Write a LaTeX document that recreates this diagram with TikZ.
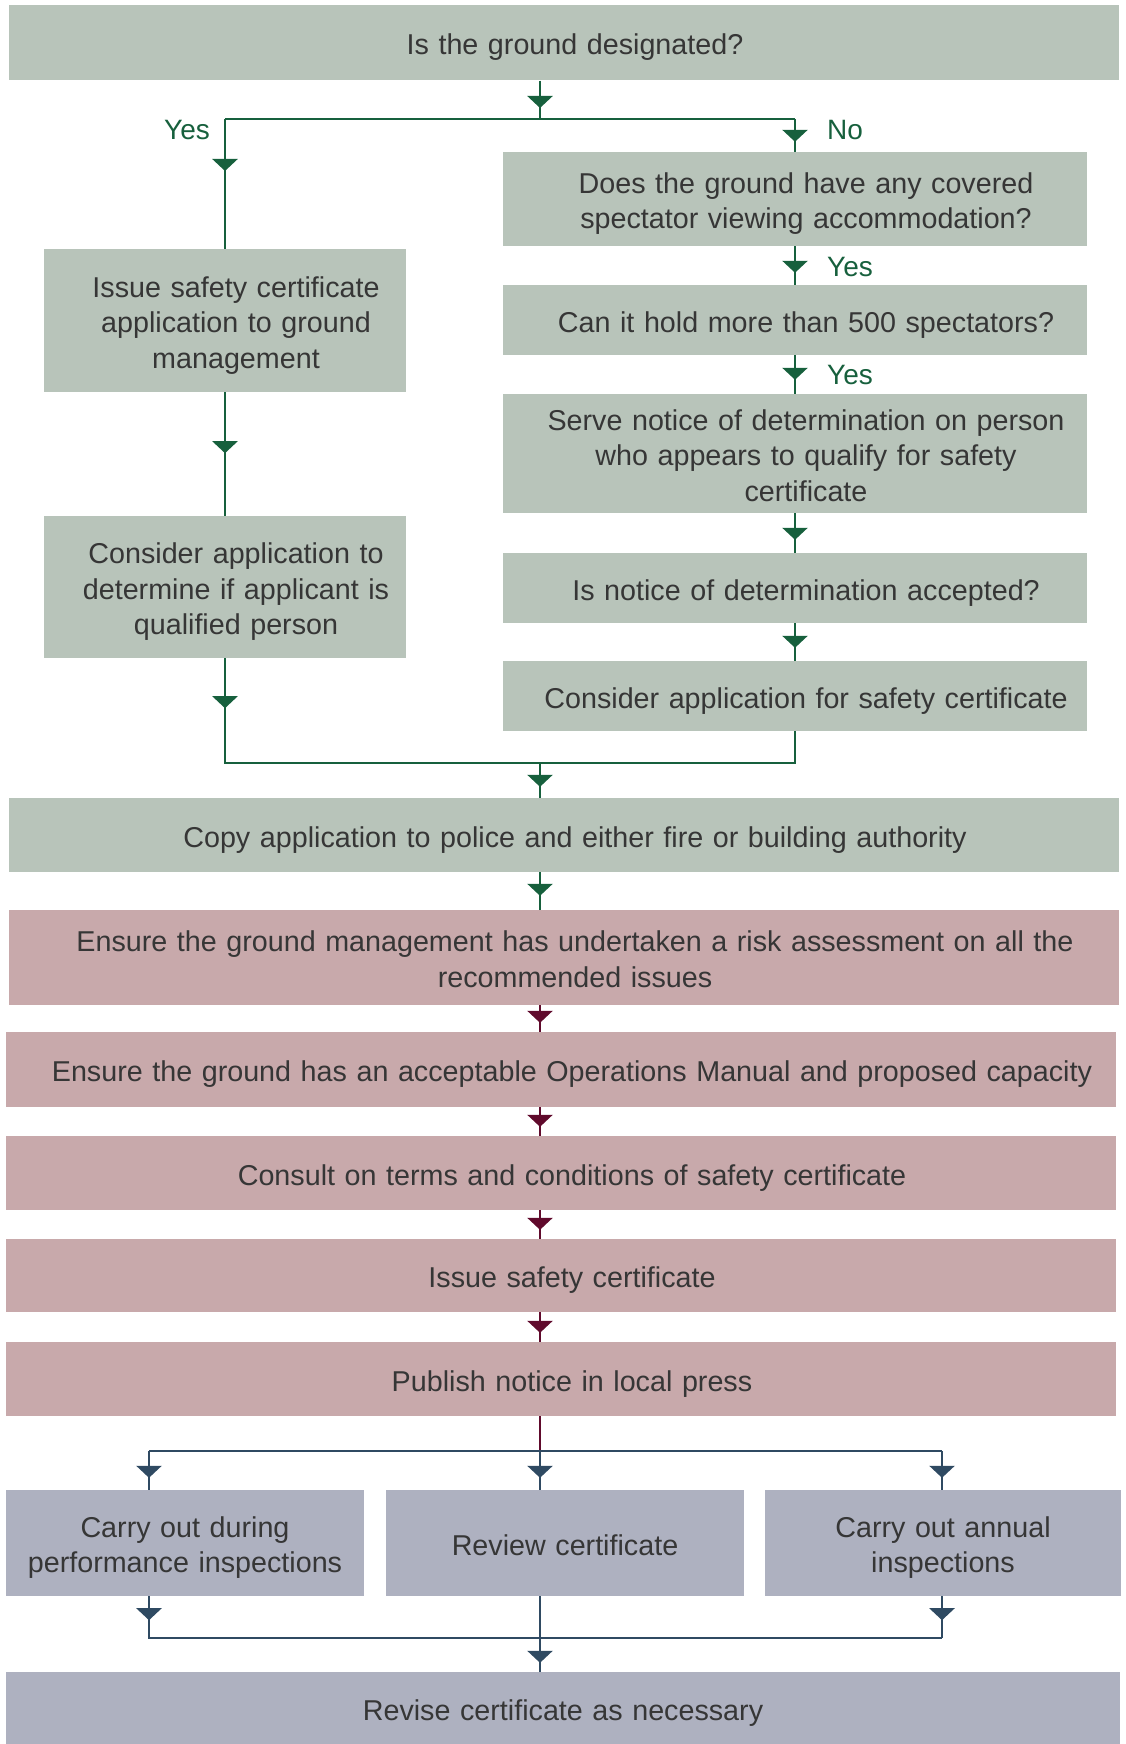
\documentclass[tikz,border=0pt]{standalone}
\usepackage{fontspec}
\setmainfont{Liberation Sans}
\usepackage{xcolor}
\usetikzlibrary{arrows.meta,decorations.markings}
\definecolor{boxsage}{HTML}{B8C4BA}
\definecolor{boxrose}{HTML}{C8A9AB}
\definecolor{boxslate}{HTML}{AEB1C0}
\definecolor{linesage}{HTML}{17603D}
\definecolor{linerose}{HTML}{600A2C}
\definecolor{lineslate}{HTML}{2F4A62}
\definecolor{boxtext}{HTML}{363636}
\newcommand\boxfont{\fontsize{28.7}{35.5}\selectfont}
\newcommand\textshift{22pt}

\begin{document}
\begin{tikzpicture}[x=1pt,y=-1pt,
  box/.style 2 args={inner sep=0pt,align=center,text=boxtext,font=\boxfont,text width=#1pt,minimum height=#2pt,
    execute at begin node={\advance\leftskip\textshift\rule{0pt}{32pt}},
    execute at end node={\rule[-8pt]{0pt}{8pt}}},
  centred/.code={\def\textshift{0pt}},
  answer/.style={inner sep=0pt,text=linesage,font=\fontsize{28}{34}\selectfont},
  sageline/.style={draw=linesage,line width=2.6pt},
  roseline/.style={draw=linerose,line width=2.6pt},
  slateline/.style={draw=lineslate,line width=2.6pt},
  tipat/.style={postaction={decorate,decoration={markings,mark=at position #1 with {\arrow{Triangle[width=25pt,length=12pt]}}}}}]
  \useasboundingbox (0,0) rectangle (1125,1744);
  \node[box={1110}{75},fill=boxsage] (designated) at (564,43) {Is the ground designated?};
  \coordinate (split) at (540,119);
  \coordinate (yesleft) at (225,119);
  \coordinate (noright) at (795,119);
  \node[answer] (yesa) at (187,130) {Yes};
  \node[answer,anchor=west] (noa) at (827,130) {No};
  \node[answer,anchor=west] (yesb) at (827,267) {Yes};
  \node[answer,anchor=west] (yesc) at (827,375) {Yes};
  \node[box={362}{143},fill=boxsage] (issueapp) at (225,320.5) {Issue safety certificate\\application to ground\\management};
  \node[box={362}{142},fill=boxsage] (considerapp) at (225,587) {Consider application to\\determine if applicant is\\qualified person};
  \node[box={584}{94},fill=boxsage] (covered) at (795,199) {Does the ground have any covered\\spectator viewing accommodation?};
  \node[box={584}{70},fill=boxsage] (hold) at (795,320) {Can it hold more than 500 spectators?};
  \node[box={584}{119},fill=boxsage] (serve) at (795,453.5) {Serve notice of determination on person\\who appears to qualify for safety\\certificate};
  \node[box={584}{70},fill=boxsage] (accepted) at (795,588) {Is notice of determination accepted?};
  \node[box={584}{70},fill=boxsage] (safetyapp) at (795,696) {Consider application for safety certificate};
  \coordinate (joinleft) at (225,763);
  \coordinate (joinright) at (795,763);
  \coordinate (join) at (540,763);
  \node[box={1110}{74},fill=boxsage] (copyapp) at (564,835) {Copy application to police and either fire or building authority};
  \node[box={1110}{95},fill=boxrose] (risk) at (564,957.5) {Ensure the ground management has undertaken a risk assessment on all the\\recommended issues};
  \node[box={1110}{75},fill=boxrose] (manual) at (561,1069.5) {Ensure the ground has an acceptable Operations Manual and proposed capacity};
  \node[box={1110}{74},fill=boxrose] (consult) at (561,1173) {Consult on terms and conditions of safety certificate};
  \node[box={1110}{73},fill=boxrose] (issuecert) at (561,1275.5) {Issue safety certificate};
  \node[box={1110}{74},fill=boxrose] (publish) at (561,1379) {Publish notice in local press};
  \coordinate (fork) at (540,1451);
  \coordinate (forkleft) at (149,1451);
  \coordinate (forkright) at (942,1451);
  \node[box={358}{106},centred,fill=boxslate] (during) at (185,1543) {Carry out during\\performance inspections};
  \node[box={358}{106},centred,fill=boxslate] (review) at (565,1543) {Review certificate};
  \node[box={356}{106},centred,fill=boxslate] (annual) at (943,1543) {Carry out annual\\inspections};
  \coordinate (mergeleft) at (149,1638);
  \coordinate (mergeright) at (942,1638);
  \node[box={1114}{72},centred,fill=boxslate] (revise) at (563,1708) {Revise certificate as necessary};
  \draw[sageline,tipat=-11pt] (designated.south -| split) -- (split);
  \draw[sageline] (yesleft) -- (noright);
  \draw[sageline,tipat=52pt] (yesleft) -- (issueapp.north);
  \draw[sageline,tipat=-10pt] (noright) -- (covered.north);
  \draw[sageline,tipat=-12pt] (covered) -- (hold);
  \draw[sageline,tipat=-14pt] (hold) -- (serve);
  \draw[sageline,tipat=-13pt] (serve) -- (accepted);
  \draw[sageline,tipat=-13pt] (accepted) -- (safetyapp);
  \draw[sageline,tipat=61pt] (issueapp) -- (considerapp);
  \draw[sageline,tipat=50pt] (considerapp.south) -- (joinleft) -- (joinright) -- (safetyapp.south);
  \draw[sageline,tipat=-11pt] (join) -- (copyapp.north -| join);
  \draw[sageline,tipat=-14pt] (copyapp.south -| join) -- (risk.north -| join);
  \draw[roseline,tipat=-9pt] (risk.south -| join) -- (manual.north -| join);
  \draw[roseline,tipat=-9pt] (manual.south -| join) -- (consult.north -| join);
  \draw[roseline,tipat=-9pt] (consult.south -| join) -- (issuecert.north -| join);
  \draw[roseline,tipat=-9pt] (issuecert.south -| join) -- (publish.north -| join);
  \draw[roseline] (publish.south -| fork) -- (fork);
  \draw[slateline] (forkleft) -- (forkright);
  \draw[slateline,tipat=-12pt] (forkleft) -- (during.north -| forkleft);
  \draw[slateline,tipat=-12pt] (fork) -- (review.north -| fork);
  \draw[slateline,tipat=-12pt] (forkright) -- (annual.north -| forkright);
  \draw[slateline,tipat=24pt] (during.south -| mergeleft) -- (mergeleft) -- (mergeright);
  \draw[slateline,tipat=24pt] (annual.south -| mergeright) -- (mergeright);
  \draw[slateline,tipat=-9pt] (review.south -| fork) -- (revise.north -| fork);
\end{tikzpicture}
\end{document}
